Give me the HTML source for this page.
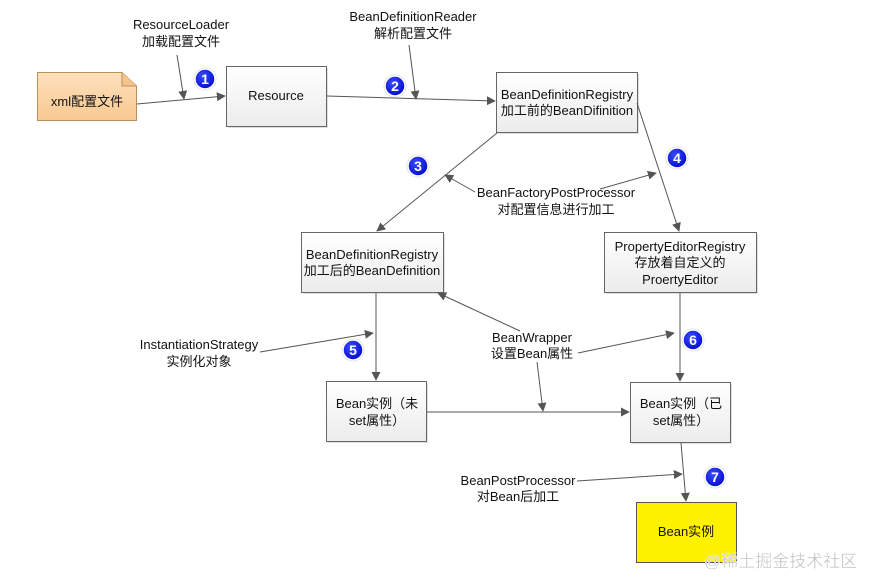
<!DOCTYPE html>
<html><head><meta charset="utf-8"><style>
html,body{margin:0;padding:0;background:#fff;}
svg{display:block;}
text{font-family:"Liberation Sans","Noto Sans CJK SC",sans-serif;font-size:13px;fill:#111;}
</style></head><body>
<svg width="883" height="588" viewBox="0 0 883 588" xmlns="http://www.w3.org/2000/svg">
<defs>
<marker id="a" viewBox="0 0 10 10" refX="9" refY="5" markerWidth="9" markerHeight="9" markerUnits="userSpaceOnUse" orient="auto"><path d="M0,0 L10,5 L0,10 z" fill="#555"/></marker>
<linearGradient id="g" x1="0" y1="0" x2="0" y2="1"><stop offset="0" stop-color="#ffffff"/><stop offset="1" stop-color="#ececec"/></linearGradient>
<linearGradient id="o" x1="0" y1="0" x2="0" y2="1"><stop offset="0" stop-color="#fde0bd"/><stop offset="1" stop-color="#f9c991"/></linearGradient>
<radialGradient id="b" cx="0.4" cy="0.35" r="0.7"><stop offset="0" stop-color="#3a4cff"/><stop offset="1" stop-color="#0008c8"/></radialGradient>
</defs>
<g fill="#ccc" opacity="0.6">
<rect x="228" y="68" width="100" height="60"/><rect x="498" y="74" width="141" height="60"/>
<rect x="303" y="234" width="142" height="60"/><rect x="606" y="234" width="152" height="60"/>
<rect x="328" y="383" width="100" height="60"/><rect x="632" y="384" width="100" height="60"/>
</g>
<path d="M37.5,72.5 H122 L136.5,86 V120.5 H37.5 Z" fill="url(#o)" stroke="#b8905a"/>
<path d="M122,72.5 V86 H136.5" fill="#f5c48a" stroke="#b8905a"/>
<text x="87" y="106" text-anchor="middle">xml配置文件</text>
<g fill="url(#g)" stroke="#666">
<rect x="226.5" y="66.5" width="100" height="60"/>
<rect x="496.5" y="72.5" width="141" height="60"/>
<rect x="301.5" y="232.5" width="142" height="60"/>
<rect x="604.5" y="232.5" width="152" height="60"/>
<rect x="326.5" y="381.5" width="100" height="60"/>
<rect x="630.5" y="382.5" width="100" height="60"/>
</g>
<rect x="636.5" y="502.5" width="100" height="60" fill="#fff200" stroke="#555"/>
<g text-anchor="middle">
<text x="276" y="100">Resource</text>
<text x="567" y="99">BeanDefinitionRegistry</text>
<text x="567" y="115">加工前的BeanDifinition</text>
<text x="372" y="259">BeanDefinitionRegistry</text>
<text x="372" y="275">加工后的BeanDefinition</text>
<text x="680" y="251">PropertyEditorRegistry</text>
<text x="680" y="267">存放着自定义的</text>
<text x="680" y="284">ProertyEditor</text>
<text x="377" y="408">Bean实例（未</text>
<text x="377" y="425">set属性）</text>
<text x="681" y="408">Bean实例（已</text>
<text x="681" y="425">set属性）</text>
<text x="686" y="536">Bean实例</text>
<text x="181" y="29">ResourceLoader</text>
<text x="181" y="46">加载配置文件</text>
<text x="413" y="21">BeanDefinitionReader</text>
<text x="413" y="38">解析配置文件</text>
<text x="556" y="197">BeanFactoryPostProcessor</text>
<text x="556" y="214">对配置信息进行加工</text>
<text x="199" y="349">InstantiationStrategy</text>
<text x="199" y="366">实例化对象</text>
<text x="532" y="342">BeanWrapper</text>
<text x="532" y="358">设置Bean属性</text>
<text x="518" y="485">BeanPostProcessor</text>
<text x="518" y="501">对Bean后加工</text>
</g>
<g stroke="#555" stroke-width="1" fill="none" marker-end="url(#a)">
<line x1="137" y1="104" x2="225" y2="96"/>
<line x1="177" y1="55" x2="184" y2="99"/>
<line x1="327" y1="96" x2="495" y2="101"/>
<line x1="409" y1="45" x2="416" y2="99"/>
<line x1="497" y1="133" x2="377" y2="231"/>
<line x1="475" y1="192" x2="445" y2="175"/>
<line x1="600" y1="189" x2="656" y2="173"/>
<line x1="637" y1="103" x2="679" y2="231"/>
<line x1="376" y1="293" x2="376" y2="380"/>
<line x1="260" y1="352" x2="373" y2="333"/>
<line x1="520" y1="331" x2="438" y2="293"/>
<line x1="578" y1="353" x2="674" y2="333"/>
<line x1="537" y1="362" x2="543" y2="411"/>
<line x1="427" y1="412" x2="629" y2="412"/>
<line x1="680" y1="293" x2="680" y2="381"/>
<line x1="681" y1="443" x2="686" y2="501"/>
<line x1="577" y1="481" x2="682" y2="474"/>
</g>
<g>
<g transform="translate(205,79)"><circle r="11.5" fill="#ddd"/><circle r="10" fill="url(#b)" stroke="#fff" stroke-width="1.5"/><text y="5" text-anchor="middle" style="fill:#fff;font-weight:bold;font-size:14px">1</text></g>
<g transform="translate(395,86)"><circle r="11.5" fill="#ddd"/><circle r="10" fill="url(#b)" stroke="#fff" stroke-width="1.5"/><text y="5" text-anchor="middle" style="fill:#fff;font-weight:bold;font-size:14px">2</text></g>
<g transform="translate(418,166)"><circle r="11.5" fill="#ddd"/><circle r="10" fill="url(#b)" stroke="#fff" stroke-width="1.5"/><text y="5" text-anchor="middle" style="fill:#fff;font-weight:bold;font-size:14px">3</text></g>
<g transform="translate(677,158)"><circle r="11.5" fill="#ddd"/><circle r="10" fill="url(#b)" stroke="#fff" stroke-width="1.5"/><text y="5" text-anchor="middle" style="fill:#fff;font-weight:bold;font-size:14px">4</text></g>
<g transform="translate(353,350)"><circle r="11.5" fill="#ddd"/><circle r="10" fill="url(#b)" stroke="#fff" stroke-width="1.5"/><text y="5" text-anchor="middle" style="fill:#fff;font-weight:bold;font-size:14px">5</text></g>
<g transform="translate(693,340)"><circle r="11.5" fill="#ddd"/><circle r="10" fill="url(#b)" stroke="#fff" stroke-width="1.5"/><text y="5" text-anchor="middle" style="fill:#fff;font-weight:bold;font-size:14px">6</text></g>
<g transform="translate(715,477)"><circle r="11.5" fill="#ddd"/><circle r="10" fill="url(#b)" stroke="#fff" stroke-width="1.5"/><text y="5" text-anchor="middle" style="fill:#fff;font-weight:bold;font-size:14px">7</text></g>
</g>
<text x="704" y="567" style="font-size:17px;fill:#bdbdbd;stroke:#fff;stroke-width:0.4">@稀土掘金技术社区</text>
</svg>
</body></html>
